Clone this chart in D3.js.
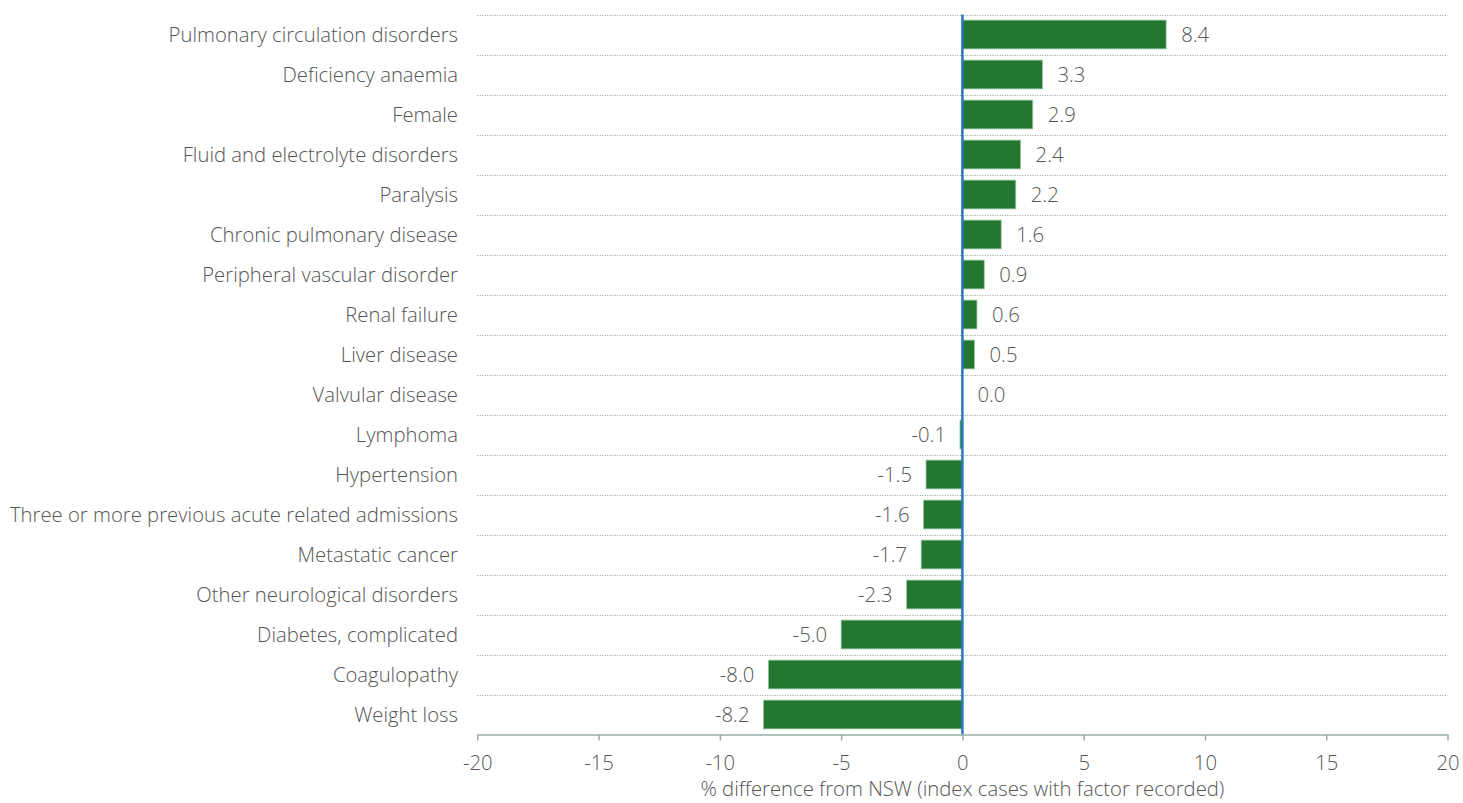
<!DOCTYPE html>
<html>
<head>
<meta charset="utf-8">
<script src="https://cdn.jsdelivr.net/npm/d3@7"></script>
<style>
  body { margin: 0; background: #fff; }
  text { font-family: "Open Sans", "Liberation Sans", Arial, sans-serif; font-weight: 300; }
</style>
</head>
<body>
<div id="vis"></div>
<script>
var categories = ["Pulmonary circulation disorders", "Deficiency anaemia", "Female",
  "Fluid and electrolyte disorders", "Paralysis", "Chronic pulmonary disease",
  "Peripheral vascular disorder", "Renal failure", "Liver disease", "Valvular disease",
  "Lymphoma", "Hypertension", "Three or more previous acute related admissions",
  "Metastatic cancer", "Other neurological disorders", "Diabetes, complicated",
  "Coagulopathy", "Weight loss"];
var values = [8.4, 3.3, 2.9, 2.4, 2.2, 1.6, 0.9, 0.6, 0.5, 0.0,
  -0.1, -1.5, -1.6, -1.7, -2.3, -5.0, -8.0, -8.2];
var xTicks = [-20, -15, -10, -5, 0, 5, 10, 15, 20];

var width = 1463, height = 803;
var margin = {top: 14.5, right: 15.5, bottom: 68.5, left: 477.3};
var fontSize = "20.3px";

// hyphen instead of unicode minus, as in the original
var fmt1 = function(d) { return d3.format(".1f")(d).replace("\u2212", "-"); };
var fmt0 = function(d) { return d3.format("d")(d).replace("\u2212", "-"); };

var svg = d3.select("#vis").append("svg")
  .attr("width", width)
  .attr("height", height);

var x = d3.scaleLinear()
  .domain([-20, 20])
  .range([margin.left, width - margin.right]);

var y = d3.scaleBand()
  .domain(categories)
  .range([margin.top, height - margin.bottom])
  .paddingInner(0.28)
  .paddingOuter(0.14);

var step = y.step();

// dotted gridlines between rows
svg.append("g")
  .selectAll("line")
  .data(categories)
  .enter().append("line")
    .attr("x1", x(-20))
    .attr("x2", x(20))
    .attr("y1", function(d) { return Math.round(y(d) - y.paddingOuter() * step) + 0.5; })
    .attr("y2", function(d) { return Math.round(y(d) - y.paddingOuter() * step) + 0.5; })
    .attr("stroke", "#8f9c9c")
    .attr("stroke-width", 1)
    .attr("stroke-dasharray", "1,1.5");

// bars
svg.append("g")
  .selectAll("rect")
  .data(values)
  .enter().append("rect")
    .attr("x", function(d) { return x(Math.min(0, d)); })
    .attr("y", function(d, i) { return y(categories[i]); })
    .attr("width", function(d) { return Math.abs(x(d) - x(0)); })
    .attr("height", y.bandwidth())
    .attr("fill", "#237730")
    .attr("stroke", "#9cc6a2")
    .attr("stroke-width", function(d) { return d === 0 ? 0 : 0.8; });

// value labels
svg.append("g")
  .selectAll("text")
  .data(values)
  .enter().append("text")
    .attr("x", function(d) { return d < 0 ? x(d) - 14 : x(d) + 15; })
    .attr("y", function(d, i) { return y(categories[i]) + y.bandwidth() / 2; })
    .attr("dy", "0.36em")
    .attr("text-anchor", function(d) { return d < 0 ? "end" : "start"; })
    .attr("fill", "#555")
    .style("font-size", fontSize)
    .text(fmt1);

// category labels
svg.append("g")
  .selectAll("text")
  .data(categories)
  .enter().append("text")
    .attr("x", 458)
    .attr("y", function(d) { return y(d) + y.bandwidth() / 2; })
    .attr("dy", "0.36em")
    .attr("text-anchor", "end")
    .attr("fill", "#555")
    .style("font-size", fontSize)
    .text(function(d) { return d; });

// zero line
svg.append("line")
  .attr("x1", x(0))
  .attr("x2", x(0))
  .attr("y1", margin.top)
  .attr("y2", height - margin.bottom)
  .attr("stroke", "#2a78bd")
  .attr("stroke-width", 2.5);

// x axis
var xAxis = svg.append("g")
  .attr("transform", "translate(0," + (height - margin.bottom) + ")")
  .call(d3.axisBottom(x).tickValues(xTicks).tickFormat(fmt0)
    .tickSize(6).tickPadding(15).tickSizeOuter(0));

xAxis.select(".domain").attr("stroke", "#9aabab").attr("stroke-width", 1.5);
xAxis.selectAll(".tick line").attr("stroke", "#9aabab").attr("stroke-width", 1.5);
xAxis.selectAll(".tick text")
  .attr("fill", "#555")
  .style("font-size", fontSize)
  .style("font-family", "'Open Sans', 'Liberation Sans', Arial, sans-serif")
  .style("font-weight", 300);

svg.append("text")
  .attr("x", x(0))
  .attr("y", 796)
  .attr("text-anchor", "middle")
  .attr("fill", "#555")
  .style("font-size", fontSize)
  .text("% difference from NSW (index cases with factor recorded)");
</script>
</body>
</html>
